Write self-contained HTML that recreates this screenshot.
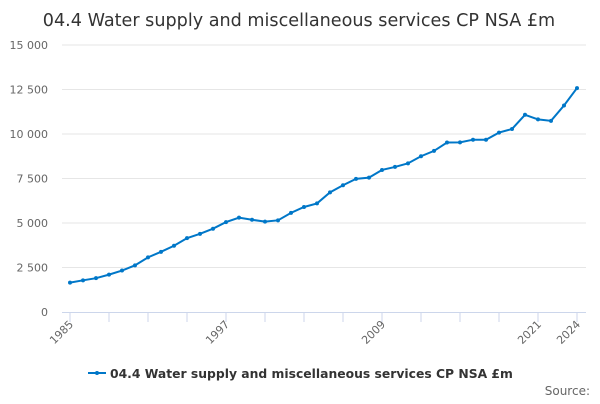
<!DOCTYPE html>
<html><head><meta charset="utf-8"><style>
body{margin:0;background:#fff;font-family:"DejaVu Sans","Liberation Sans",sans-serif;}
svg text{font-family:"DejaVu Sans","Liberation Sans",sans-serif;}
</style></head><body>
<svg id="c" width="600" height="400" xmlns="http://www.w3.org/2000/svg">
<text x="299" y="26" text-anchor="middle" font-size="17.6" fill="#333">04.4 Water supply and miscellaneous services CP NSA £m</text>
<g id="grid"></g><g id="axes"></g><g id="series"></g>
<g>
<line x1="88" y1="373" x2="106" y2="373" stroke="#0077c8" stroke-width="2"/>
<circle cx="97" cy="373" r="2" fill="#0077c8"/>
<text x="110" y="378" font-size="12.35" font-weight="bold" fill="#333">04.4 Water supply and miscellaneous services CP NSA £m</text>
</g>
<text x="590" y="395" text-anchor="end" font-size="12" fill="#666">Source:</text>
</svg>
<script>
const years=[];for(let y=1985;y<=2024;y++)years.push(y);
const values=[1650,1780,1900,2100,2330,2620,3070,3380,3720,4150,4390,4680,5050,5300,5180,5080,5150,5570,5900,6100,6720,7120,7480,7550,7980,8150,8350,8750,9050,9520,9530,9680,9680,10080,10280,11080,10820,10740,11600,12580];
const yTicks=[0,2500,5000,7500,10000,12500,15000];
const yTickLabels=["0","2 500","5 000","7 500","10 000","12 500","15 000"];
const xLabels=[1985,1997,2009,2021,2024];
const NS="http://www.w3.org/2000/svg";
const X=y=>70+(y-1985)*13;
const Y=v=>312-v/15000*267;
function mk(t,a,p){const e=document.createElementNS(NS,t);for(const k in a)e.setAttribute(k,a[k]);p.appendChild(e);return e;}
const g=document.getElementById('grid'),ax=document.getElementById('axes'),s=document.getElementById('series');
yTicks.forEach((v,i)=>{
 if(v>0){const l=mk('line',{x1:62,x2:586,y1:Y(v),y2:Y(v),stroke:'#e6e6e6'},g);
 
 }
 const t=mk('text',{x:48,y:Y(v)+4,'text-anchor':'end','font-size':11,fill:'#666'},ax);t.textContent=yTickLabels[i];
 
 
});
const al=mk('line',{x1:62,x2:586,y1:312.5,y2:312.5,stroke:'#ccd6eb'},ax);


for(let y=1985;y<=2024;y+=3){const tk=mk('line',{x1:X(y),x2:X(y),y1:312,y2:322,stroke:'#ccd6eb'},ax);
 
 }
const tk2=mk('line',{x1:X(2024),x2:X(2024),y1:312,y2:322,stroke:'#ccd6eb'},ax);


xLabels.forEach(y=>{const t=mk('text',{x:X(y)+4,y:325,'text-anchor':'end','font-size':11,fill:'#666',transform:`rotate(-45 ${X(y)+4} 325)`},ax);t.textContent=y;
 
 });
const pl=mk('polyline',{points:years.map((y,i)=>X(y)+','+Y(values[i])).join(' '),fill:'none',stroke:'#0077c8','stroke-width':2},s);


years.forEach((y,i)=>{const c=mk('circle',{cx:X(y),cy:Y(values[i]),r:2,fill:'#0077c8'},s);
 
 });
</script>
</body></html>
